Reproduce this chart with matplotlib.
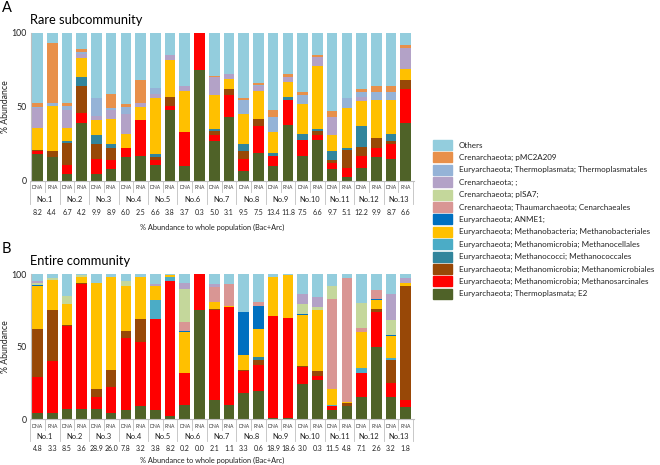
import matplotlib.pyplot as plt
import numpy as np
from matplotlib.transforms import blended_transform_factory
from matplotlib.patches import Rectangle

plt.rcParams['font.family'] = ['Lato', 'DejaVu Sans']

# legend order (top to bottom), stacking goes the other way round
taxa = ["Others",
        "Crenarchaeota; pMC2A209",
        "Euryarchaeota; Thermoplasmata; Thermoplasmatales",
        "Crenarchaeota; ;",
        "Crenarchaeota; pISA7;",
        "Crenarchaeota; Thaumarchaeota; Cenarchaeales",
        "Euryarchaeota; ANME1;",
        "Euryarchaeota; Methanobacteria; Methanobacteriales",
        "Euryarchaeota; Methanomicrobia; Methanocellales",
        "Euryarchaeota; Methanococci; Methanococcales",
        "Euryarchaeota; Methanomicrobia; Methanomicrobiales",
        "Euryarchaeota; Methanomicrobia; Methanosarcinales",
        "Euryarchaeota; Thermoplasmata; E2"]
colors = ["#93CDDD", "#E8904A", "#95B3D7", "#B3A2C7", "#C4D79B", "#D99694",
          "#0070C0", "#FFC000", "#4BACC6", "#31859C", "#984807", "#FF0000", "#4F6228"]

sites = ["No.%d" % i for i in range(1, 14)]
nucl = ["DNA", "RNA"] * 13

# % abundance to whole population (Bac+Arc)
rare_pct = ["8.2", "4.4", "6.7", "4.2", "9.9", "8.9", "6.0", "2.5", "6.6", "3.8", "3.7", "0.3", "5.0",
            "3.1", "9.5", "7.5", "13.4", "11.8", "7.5", "6.6", "9.7", "5.1", "12.2", "9.9", "8.7", "6.6"]
entire_pct = ["4.8", "3.3", "8.5", "3.6", "28.9", "26.0", "7.8", "3.2", "3.8", "8.2", "0.2", "0.0", "2.1",
              "1.1", "3.3", "0.6", "18.9", "18.6", "3.0", "0.3", "11.5", "4.8", "7.1", "2.6", "3.2", "1.8"]

# Rare subcommunity (%), one list per taxon, 26 bars
rare_e2 = [18, 16, 5, 39, 5, 8, 16, 17, 11, 48, 10, 75, 27, 43, 7, 19, 10, 38, 17, 28, 8, 3, 9, 16, 15, 39]
rare_sarc = [2, 0, 6, 7, 10, 6, 6, 24, 3, 3, 23, 25, 4, 15, 8, 18, 7, 17, 11, 3, 4, 6, 8, 6, 10, 23]
rare_micro = [1, 4, 15, 18, 10, 8, 0, 0, 2, 6, 0, 0, 3, 4, 5, 5, 0, 0, 0, 3, 2, 12, 6, 7, 2, 6]
rare_cocc = [0, 0, 1, 6, 6, 3, 0, 0, 2, 0, 0, 0, 1, 0, 5, 0, 2, 2, 4, 1, 6, 1, 14, 0, 5, 0]
rare_cell = [0] * 26
rare_bact = [15, 31, 9, 13, 10, 17, 10, 9, 38, 25, 28, 0, 23, 7, 20, 19, 14, 10, 20, 43, 11, 27, 17, 26, 23, 8]
rare_anme = [0] * 26
rare_cenar = [0] * 26
rare_pisa = [0] * 26
rare_cren = [13, 0, 12, 3, 3, 6, 13, 3, 3, 3, 3, 0, 12, 3, 0, 3, 0, 3, 0, 6, 12, 0, 3, 0, 0, 14]
rare_thermo = [1, 2, 3, 1, 12, 1, 5, 0, 4, 0, 0, 0, 0, 0, 10, 1, 10, 0, 6, 0, 0, 7, 3, 5, 5, 0]
rare_pmc = [3, 40, 2, 2, 0, 10, 2, 15, 0, 0, 0, 0, 1, 0, 1, 1, 5, 2, 2, 1, 4, 0, 2, 4, 4, 2]
rare_others = [47, 7, 47, 11, 44, 41, 48, 32, 37, 15, 36, 0, 29, 28, 44, 34, 52, 28, 40, 15, 53, 44, 38, 36, 36, 8]

# Entire community (%)
ent_e2 = [4, 4, 7, 7, 7, 4, 6, 9, 6, 2, 10, 75, 13, 10, 18, 19, 1, 1, 24, 27, 6, 9, 15, 50, 15, 8]
ent_sarc = [25, 36, 57, 86, 8, 18, 50, 44, 63, 93, 22, 25, 62, 67, 15, 18, 70, 69, 12, 3, 3, 0, 17, 24, 10, 5]
ent_micro = [33, 35, 1, 1, 6, 12, 5, 16, 0, 0, 0, 0, 1, 0, 1, 4, 0, 0, 0.5, 3, 0, 2, 0, 2, 16, 79]
ent_cocc = [0, 0, 0, 0, 0, 0, 0, 0, 0, 0, 0, 0, 0, 0, 0, 2, 0, 0, 0, 0, 0, 0, 0, 0, 0, 0]
ent_cell = [0, 0, 0, 0, 0, 0, 0, 0, 13, 3, 0, 0, 0, 0, 0, 0, 0, 0, 0, 0, 1, 0, 3, 0, 1, 0]
ent_bact = [30, 21, 14, 4, 73, 64, 31, 29, 10, 1, 28, 0, 5, 1, 10, 19, 27, 29, 35.5, 42, 11, 1, 25, 6, 15, 2]
ent_anme = [0.5, 0, 0, 0, 0, 0, 0, 0, 0, 0, 1, 0, 0, 0, 30, 16, 0, 0, 0.5, 0, 0, 0, 0, 1, 1, 0]
ent_cenar = [0, 0, 0, 0, 0, 0, 0, 0, 0, 0, 6, 0, 10, 15, 0, 3, 0, 0, 0, 0, 62, 85, 3, 6, 0, 0]
ent_pisa = [1, 1, 6, 1, 0, 0, 3, 0, 0, 0, 23, 0, 0, 0, 0, 0, 0, 0, 7, 2, 9, 0, 17, 0, 10, 0]
ent_cren = [1.5, 0, 0, 0, 0, 0, 0, 0, 1, 0, 4, 0, 2, 0, 0, 0, 0, 0, 7, 7, 0, 0, 0, 0, 18, 3]
ent_thermo = [0] * 26
ent_pmc = [0] * 26
ent_others = [5, 3, 15, 1, 6, 2, 5, 2, 7, 1, 6, 0, 7, 7, 26, 19, 2, 1, 13.5, 16, 8, 3, 20, 11, 14, 3]

rare = [rare_e2, rare_sarc, rare_micro, rare_cocc, rare_cell, rare_bact, rare_anme,
        rare_cenar, rare_pisa, rare_cren, rare_thermo, rare_pmc, rare_others]
entire = [ent_e2, ent_sarc, ent_micro, ent_cocc, ent_cell, ent_bact, ent_anme,
          ent_cenar, ent_pisa, ent_cren, ent_thermo, ent_pmc, ent_others]

W, H = 660, 465
fig = plt.figure(figsize=(6.6, 4.65), dpi=100)


def fy(px):
    return 1 - px / H


def panel(data, pct, top_px, bot_px, title, letter, rows):
    ax = fig.add_axes([31 / W, fy(bot_px), (414 - 31) / W, (bot_px - top_px) / H])
    x = np.arange(26)
    bottom = np.zeros(26)
    stack_colors = colors[::-1]
    for vals, c in zip(data, stack_colors):
        vals = np.array(vals, dtype=float)
        ax.bar(x, vals, bottom=bottom, width=0.72, color=c, linewidth=0)
        bottom += vals
    ax.set_xlim(-0.44, 25.56)
    ax.set_ylim(0, 100)
    ax.set_yticks([0, 50, 100])
    ax.tick_params(axis='y', labelsize=6.3, length=0, pad=3, labelcolor='#222222')
    ax.set_xticks([])
    for s in ['top', 'right']:
        ax.spines[s].set_visible(False)
    for s in ['left', 'bottom']:
        ax.spines[s].set_color('#BFBFBF')
        ax.spines[s].set_linewidth(0.8)
    fig.text(6 / W, fy((top_px + bot_px) / 2), "% Abundance", fontsize=6.3,
             rotation=90, ha='center', va='center', color='#222222')

    # multi-level category axis
    tr = blended_transform_factory(ax.transData, fig.transFigure)
    short_px, long_px, nucl_px, site_px, pct_px, lab_px = rows
    for i in range(27):
        xb = i - 0.5
        end = long_px if i % 2 == 0 else short_px
        ax.plot([xb, xb], [fy(bot_px), fy(end)], color='#BFBFBF', lw=0.6,
                transform=tr, clip_on=False)
    for i in range(26):
        ax.text(i, fy(nucl_px), nucl[i], fontsize=3.6, ha='center', va='center',
                transform=tr, color='#333333')
        ax.text(i, fy(pct_px), pct[i], fontsize=5.0, ha='center', va='center',
                transform=tr, color='#222222')
    for j in range(13):
        ax.text(2 * j + 0.5, fy(site_px), sites[j], fontsize=5.4, ha='center', va='center',
                transform=tr, color='#222222')
    fig.text(212 / W, fy(lab_px), "% Abundance to whole population (Bac+Arc)",
             fontsize=5.3, ha='center', va='center', color='#222222')
    fig.text(30 / W, fy(top_px - 13), title, fontsize=9.3, ha='left', va='center')
    fig.text(2 / W, fy(top_px - 25), letter, fontsize=10.5, ha='left', va='center')
    return ax


panel(rare, rare_pct, 33, 181, "Rare subcommunity", "A", (192, 204, 187.5, 199, 212, 227.5))
panel(entire, entire_pct, 274, 419, "Entire community", "B", (430, 441, 426.5, 436, 448, 460))

# legend
for k, (name, c) in enumerate(zip(taxa, colors)):
    yc = 145 + 12.4 * k
    fig.patches.append(Rectangle((433 / W, fy(yc + 5)), 19 / W, 10 / H, color=c,
                                 transform=fig.transFigure, figure=fig))
    fig.text(459 / W, fy(yc), name, fontsize=5.8, ha='left', va='center', color='#222222')

fig.savefig("out.png", dpi=100)
